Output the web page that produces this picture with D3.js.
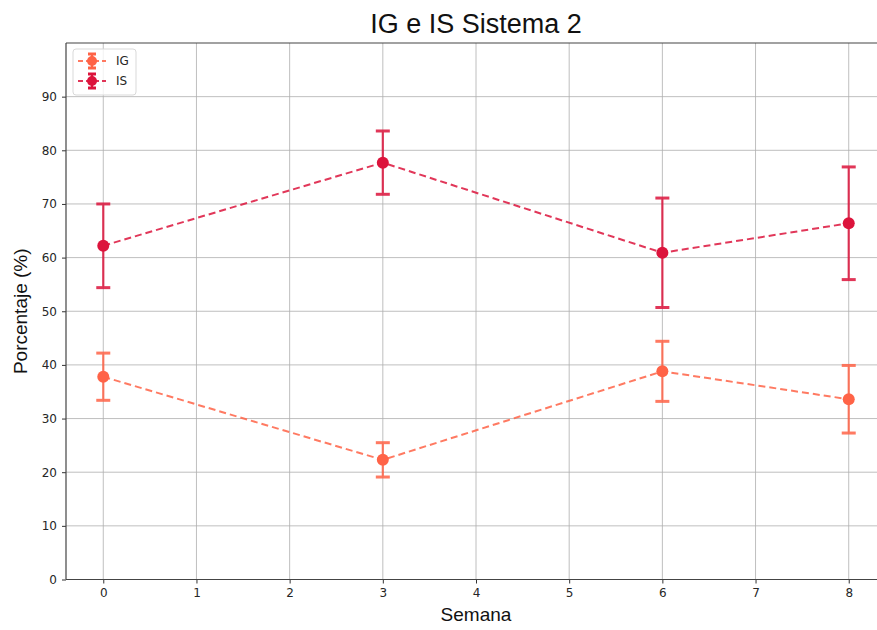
<!DOCTYPE html>
<html>
<head>
<meta charset="utf-8">
<script src="https://cdn.jsdelivr.net/npm/d3@7"></script>
<style>
  body { margin: 0; background: #fff; }
  svg { display: block; font-family: "DejaVu Sans", sans-serif; }
</style>
</head>
<body>
<svg id="chart" width="877" height="630"></svg>
<script>
// Weeks and measured percentages with their error (±)
const semanas = [0, 3, 6, 8];
const igValues = [37.8, 22.3, 38.8, 33.6];
const igErrors = [4.4, 3.2, 5.6, 6.3];
const isValues = [62.2, 77.7, 60.9, 66.4];
const isErrors = [7.8, 5.9, 10.2, 10.5];
const xTicks = [0, 1, 2, 3, 4, 5, 6, 7, 8];
const yTicks = [0, 10, 20, 30, 40, 50, 60, 70, 80, 90];

const series = [
  { name: "IG", color: "#FF6347", values: igValues, errors: igErrors },
  { name: "IS", color: "#DC143C", values: isValues, errors: isErrors }
];

const svg = d3.select("#chart");
const plot = { left: 66, right: 886, top: 43, bottom: 579.5 };
const labelFont = "Liberation Sans, Arial, sans-serif";

const x = d3.scaleLinear().domain([-0.4, 8.4]).range([plot.left, plot.right]);
const y = d3.scaleLinear().domain([0, 100]).range([plot.bottom, plot.top]);

// grid
const grid = svg.append("g");
grid.selectAll("line.vx").data(xTicks).join("line")
  .attr("x1", d => x(d)).attr("x2", d => x(d))
  .attr("y1", plot.top).attr("y2", plot.bottom)
  .attr("stroke", "#b0b0b0").attr("stroke-width", 1).attr("opacity", 0.8);
grid.selectAll("line.hy").data(yTicks).join("line")
  .attr("x1", plot.left).attr("x2", plot.right)
  .attr("y1", d => y(d)).attr("y2", d => y(d))
  .attr("stroke", "#b0b0b0").attr("stroke-width", 1).attr("opacity", 0.8);

// axes
const xAxis = d3.axisBottom(x).tickValues(xTicks).tickSize(4).tickPadding(5).tickFormat(d3.format("d"));
const yAxis = d3.axisLeft(y).tickValues(yTicks).tickSize(4).tickPadding(5).tickFormat(d3.format("d"));

const gx = svg.append("g").attr("transform", `translate(0,${plot.bottom})`).call(xAxis);
const gy = svg.append("g").attr("transform", `translate(${plot.left},0)`).call(yAxis);
[gx, gy].forEach(g => {
  g.select(".domain").remove();
  g.selectAll(".tick line").attr("stroke", "#333").attr("stroke-width", 1);
  g.selectAll(".tick text").attr("fill", "#262626").attr("font-size", 12)
    .attr("font-family", "DejaVu Sans, sans-serif");
});

// spines (left, top, bottom)
svg.append("line").attr("x1", plot.left).attr("x2", plot.left).attr("y1", plot.top).attr("y2", plot.bottom)
  .attr("stroke", "#444").attr("stroke-width", 1.2);
svg.append("line").attr("x1", plot.left).attr("x2", plot.right).attr("y1", plot.bottom).attr("y2", plot.bottom)
  .attr("stroke", "#444").attr("stroke-width", 1.2);
svg.append("line").attr("x1", plot.left).attr("x2", plot.right).attr("y1", plot.top).attr("y2", plot.top)
  .attr("stroke", "#444").attr("stroke-width", 1.2);

// series: dashed line, error bars with caps, round markers
const capW = 7;
series.forEach(s => {
  const g = svg.append("g");
  const pts = semanas.map((w, i) => ({ w, v: s.values[i], e: s.errors[i] }));
  const line = d3.line().x(d => x(d.w)).y(d => y(d.v));
  g.append("path").datum(pts).attr("d", line)
    .attr("fill", "none").attr("stroke", s.color).attr("stroke-width", 2)
    .attr("stroke-dasharray", "7,4").attr("opacity", 0.85);
  const eb = g.selectAll("g.eb").data(pts).join("g").attr("opacity", 0.85);
  eb.append("line")
    .attr("x1", d => x(d.w)).attr("x2", d => x(d.w))
    .attr("y1", d => y(d.v - d.e)).attr("y2", d => y(d.v + d.e))
    .attr("stroke", s.color).attr("stroke-width", 2.2);
  eb.append("line")
    .attr("x1", d => x(d.w) - capW).attr("x2", d => x(d.w) + capW)
    .attr("y1", d => y(d.v + d.e)).attr("y2", d => y(d.v + d.e))
    .attr("stroke", s.color).attr("stroke-width", 3);
  eb.append("line")
    .attr("x1", d => x(d.w) - capW).attr("x2", d => x(d.w) + capW)
    .attr("y1", d => y(d.v - d.e)).attr("y2", d => y(d.v - d.e))
    .attr("stroke", s.color).attr("stroke-width", 3);
  g.selectAll("circle").data(pts).join("circle")
    .attr("cx", d => x(d.w)).attr("cy", d => y(d.v)).attr("r", 6)
    .attr("fill", s.color);
});

// legend
const legend = svg.append("g").attr("transform", "translate(73,49)");
legend.append("rect").attr("width", 63).attr("height", 46).attr("rx", 3)
  .attr("fill", "#fff").attr("fill-opacity", 0.8).attr("stroke", "#d9d9d9");
series.forEach((s, i) => {
  const cy = 12 + i * 20;
  const lg = legend.append("g").attr("transform", `translate(0,${cy})`);
  lg.append("line").attr("x1", 5).attr("x2", 33).attr("y1", 0).attr("y2", 0)
    .attr("stroke", s.color).attr("stroke-width", 2).attr("stroke-dasharray", "5,3").attr("opacity", 0.85);
  lg.append("line").attr("x1", 19).attr("x2", 19).attr("y1", -7).attr("y2", 7)
    .attr("stroke", s.color).attr("stroke-width", 2.2);
  lg.append("line").attr("x1", 15).attr("x2", 23).attr("y1", -7).attr("y2", -7)
    .attr("stroke", s.color).attr("stroke-width", 3);
  lg.append("line").attr("x1", 15).attr("x2", 23).attr("y1", 7).attr("y2", 7)
    .attr("stroke", s.color).attr("stroke-width", 3);
  lg.append("circle").attr("cx", 19).attr("cy", 0).attr("r", 5).attr("fill", s.color);
  lg.append("text").attr("x", 43).attr("y", 0).attr("dy", "0.35em")
    .attr("font-size", 12).attr("fill", "#262626").text(s.name);
});

// titles
svg.append("text").attr("x", (plot.left + plot.right) / 2).attr("y", 33)
  .attr("text-anchor", "middle").attr("font-size", 27).attr("fill", "#111")
  .attr("font-family", labelFont).text("IG e IS Sistema 2");
svg.append("text").attr("x", (plot.left + plot.right) / 2).attr("y", 621)
  .attr("text-anchor", "middle").attr("font-size", 19).attr("fill", "#111")
  .attr("font-family", labelFont).text("Semana");
svg.append("text").attr("transform", `translate(27,${(plot.top + plot.bottom) / 2}) rotate(-90)`)
  .attr("text-anchor", "middle").attr("font-size", 19).attr("fill", "#111")
  .attr("font-family", labelFont).text("Porcentaje (%)");
</script>
</body>
</html>
